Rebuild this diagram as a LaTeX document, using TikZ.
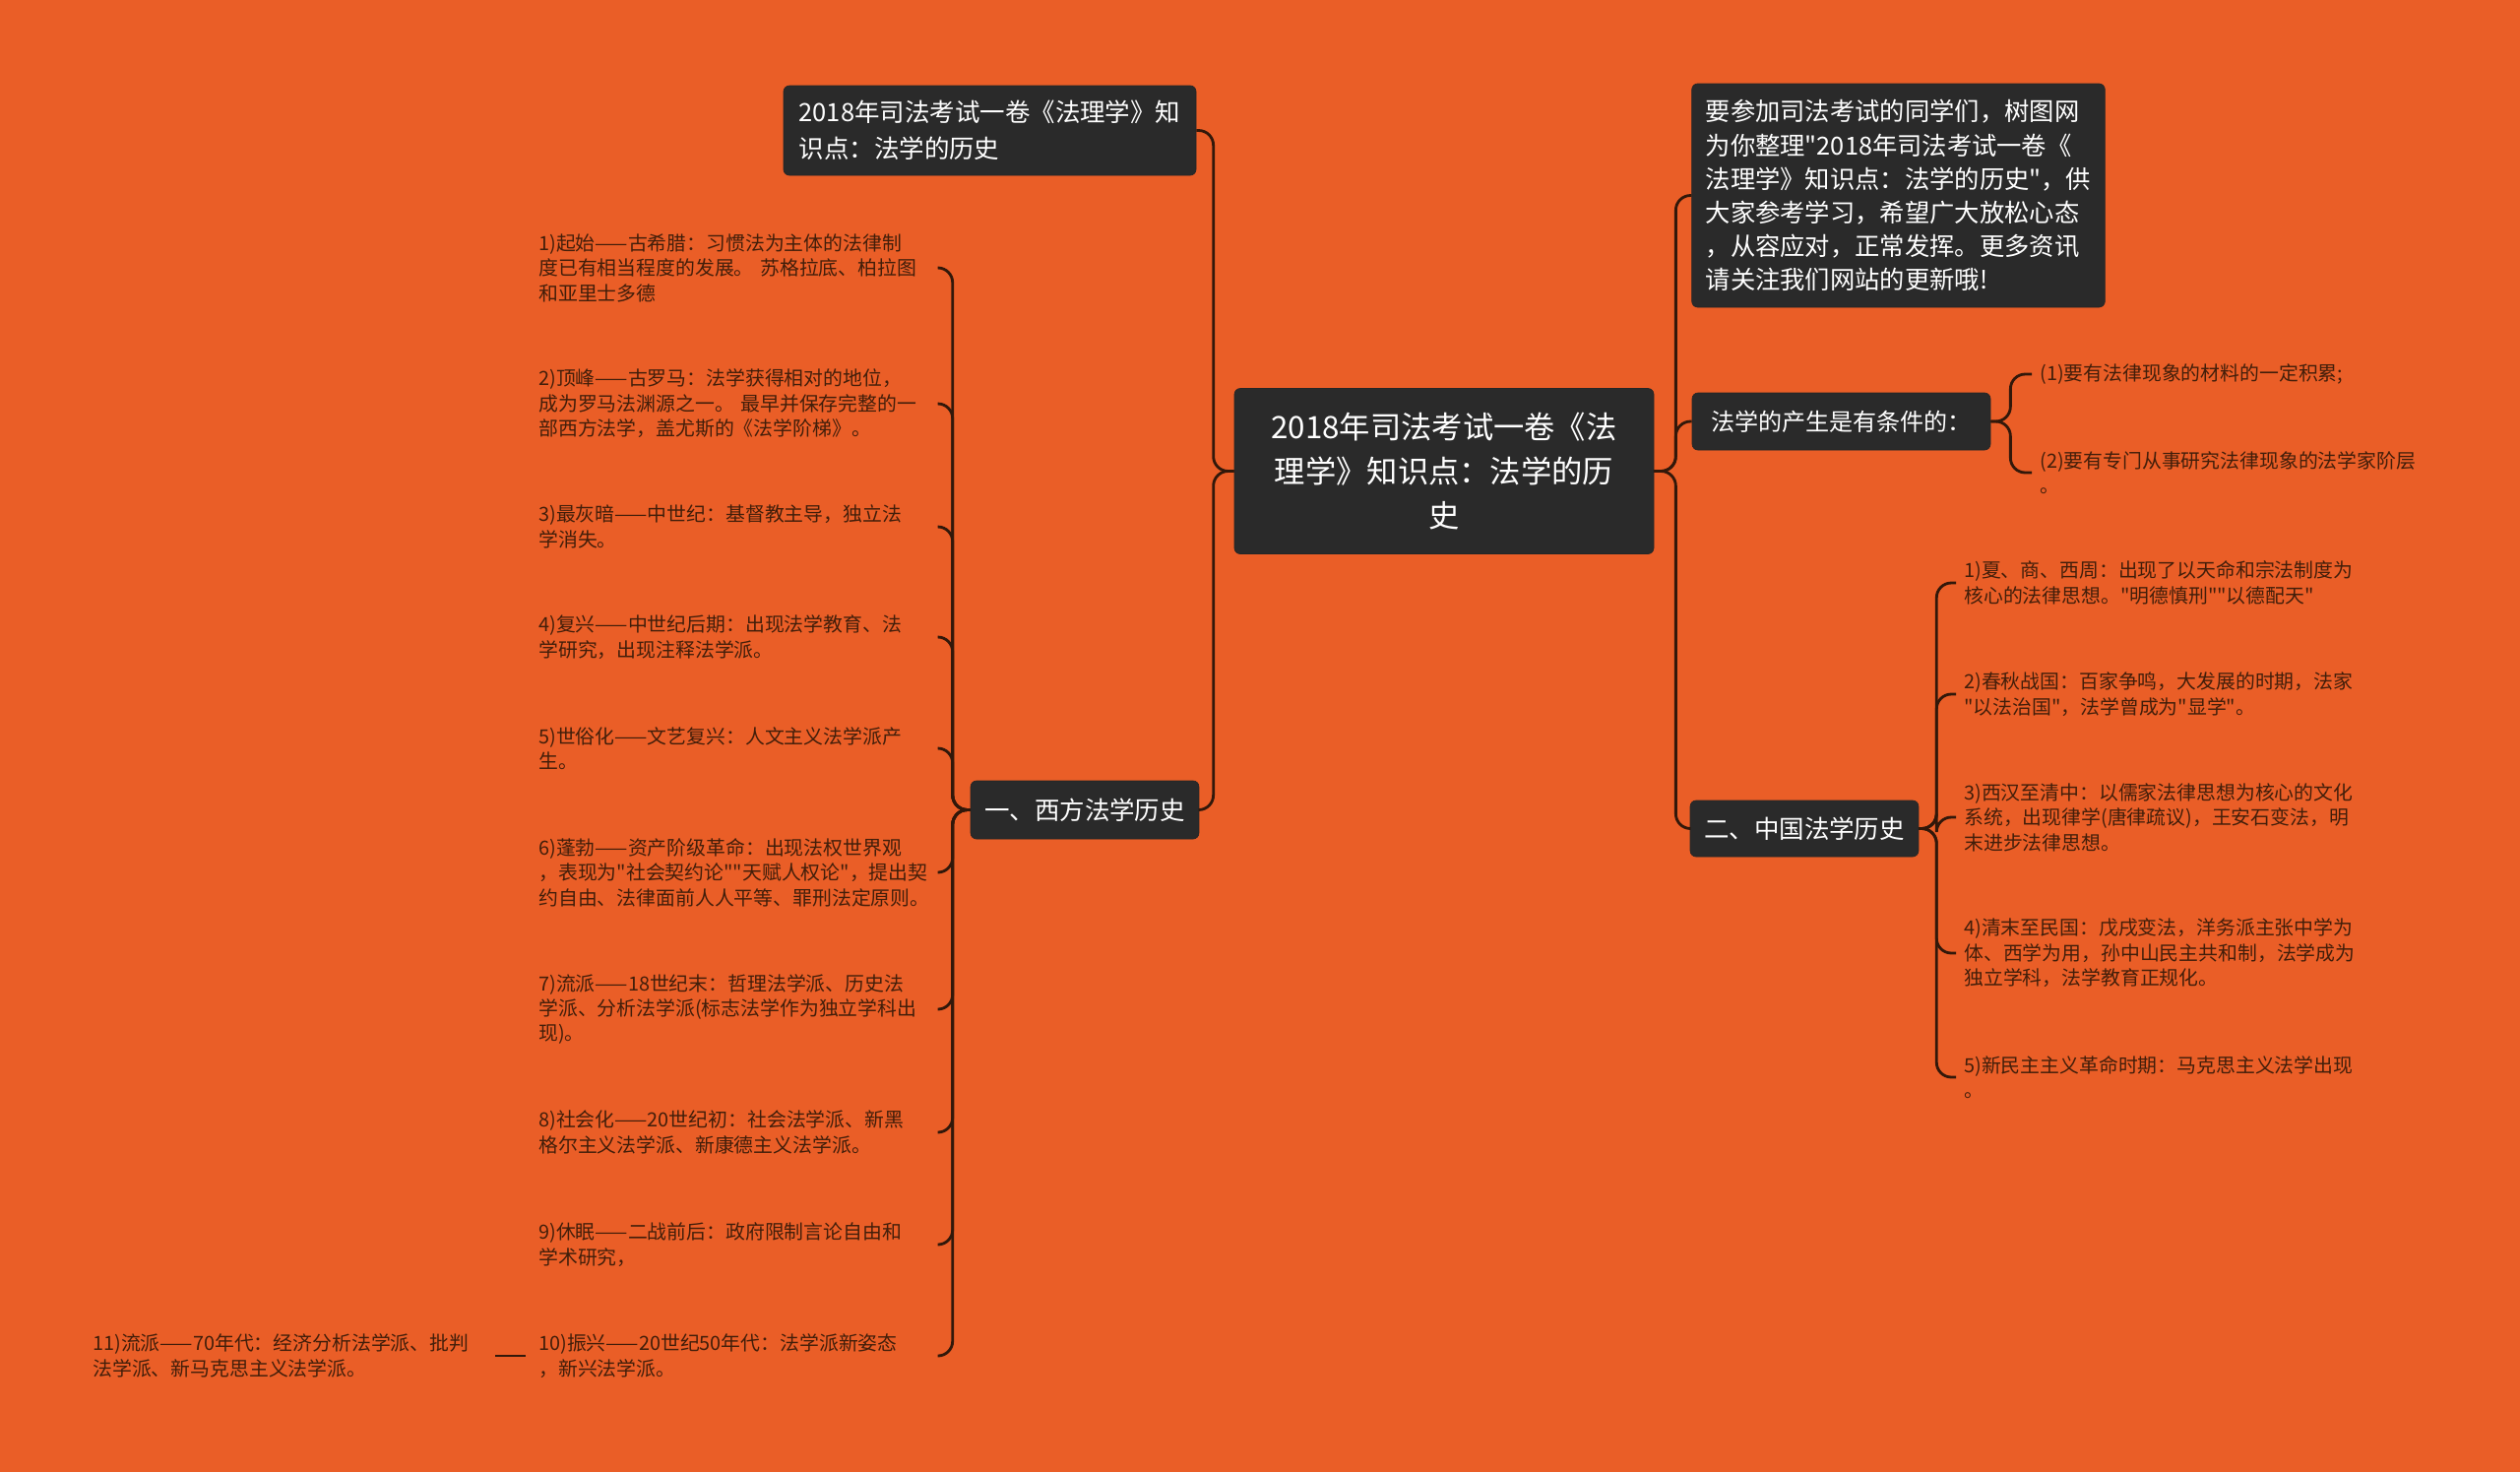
\documentclass[tikz,border=0pt]{standalone}
\usepackage{fontspec}
\setmainfont{Noto Sans CJK SC}[Ligatures=TeXOff]

\definecolor{bgorange}{RGB}{234,94,39}
\definecolor{boxgray}{RGB}{42,42,42}
\definecolor{linebrown}{RGB}{50,24,10}
\definecolor{leaftext}{RGB}{66,30,10}

\begin{document}
\begin{tikzpicture}[
x=0.2mm, y=-0.2mm,
topic/.style={fill=boxgray, draw=black!85, rounded corners=1.2mm, text=white, align=left, inner xsep=2.8mm},
leaf/.style={text=leaftext, align=left, text width=79.4mm, inner xsep=1.6mm, inner ysep=0pt, anchor=west, font=\fontsize{11.3}{14.5}\selectfont},
link/.style={draw=linebrown, line width=1.6pt, rounded corners=3mm}
]

\fill[bgorange] (0,0) rectangle (2560,1495);
\useasboundingbox (0,0) rectangle (2560,1495);


\node[topic, align=center, minimum width=85.2mm, minimum height=33.6mm, font=\fontsize{17.8}{25.6}\selectfont] (root) at (1467,478.5)
{2018年司法考试一卷《法\\理学》知识点：法学的历\\史};


\node[topic, minimum width=83.8mm, minimum height=18.2mm, font=\fontsize{14.5}{21}\selectfont] (title) at (1005.5,132.5)
{2018年司法考试一卷《法理学》知\\识点：法学的历史};

\node[topic, minimum width=45.6mm, minimum height=11.8mm, font=\fontsize{14.5}{18}\selectfont] (west) at (1102,822.5)
{一、西方法学历史};


\node[topic, minimum width=83.8mm, minimum height=45.4mm, font=\fontsize{14.4}{19.4}\selectfont] (intro) at (1928.5,198.5)
{要参加司法考试的同学们，树图网\\为你整理"2018年司法考试一卷《\\法理学》知识点：法学的历史"，供\\大家参考学习，希望广大放松心态\\，从容应对，正常发挥。更多资讯\\请关注我们网站的更新哦!};

\node[topic, minimum width=60.6mm, minimum height=11.6mm, font=\fontsize{13.7}{17}\selectfont] (cond) at (1870.5,428)
{法学的产生是有条件的：};

\node[topic, minimum width=45.6mm, minimum height=11.4mm, font=\fontsize{14.5}{18}\selectfont] (china) at (1833,841.5)
{二、中国法学历史};


% western history
\node[leaf] (w1) at (539,272) {1)起始——古希腊：习惯法为主体的法律制\\度已有相当程度的发展。 苏格拉底、柏拉图\\和亚里士多德};
\node[leaf] (w2) at (539,410) {2)顶峰——古罗马：法学获得相对的地位，\\成为罗马法渊源之一。 最早并保存完整的一\\部西方法学，盖尤斯的《法学阶梯》。};
\node[leaf] (w3) at (539,535) {3)最灰暗——中世纪：基督教主导，独立法\\学消失。};
\node[leaf] (w4) at (539,647) {4)复兴——中世纪后期：出现法学教育、法\\学研究，出现注释法学派。};
\node[leaf] (w5) at (539,760) {5)世俗化——文艺复兴：人文主义法学派产\\生。};
\node[leaf] (w6) at (539,886) {6)蓬勃——资产阶级革命：出现法权世界观\\，表现为"社会契约论""天赋人权论"，提出契\\约自由、法律面前人人平等、罪刑法定原则。};
\node[leaf] (w7) at (539,1025) {7)流派——18世纪末：哲理法学派、历史法\\学派、分析法学派(标志法学作为独立学科出\\现)。};
\node[leaf] (w8) at (539,1150) {8)社会化——20世纪初：社会法学派、新黑\\格尔主义法学派、新康德主义法学派。};
\node[leaf] (w9) at (539,1264) {9)休眠——二战前后：政府限制言论自由和\\学术研究，};
\node[leaf] (w10) at (539,1377) {10)振兴——20世纪50年代：法学派新姿态\\，新兴法学派。};
\node[leaf] (w11) at (86,1377) {11)流派——70年代：经济分析法学派、批判\\法学派、新马克思主义法学派。};


% conditions
\node[leaf] (c1) at (2064,380) {(1)要有法律现象的材料的一定积累;};
\node[leaf] (c2) at (2064,480) {(2)要有专门从事研究法律现象的法学家阶层\\。};


% chinese history
\node[leaf] (h1) at (1987,592) {1)夏、商、西周：出现了以天命和宗法制度为\\核心的法律思想。"明德慎刑""以德配天"};
\node[leaf] (h2) at (1987,705) {2)春秋战国：百家争鸣，大发展的时期，法家\\"以法治国"，法学曾成为"显学"。};
\node[leaf] (h3) at (1987,830) {3)西汉至清中：以儒家法律思想为核心的文化\\系统，出现律学(唐律疏议)，王安石变法，明\\末进步法律思想。};
\node[leaf] (h4) at (1987,968) {4)清末至民国：戊戌变法，洋务派主张中学为\\体、西学为用，孙中山民主共和制，法学成为\\独立学科，法学教育正规化。};
\node[leaf] (h5) at (1987,1094) {5)新民主主义革命时期：马克思主义法学出现\\。};


% connectors
\draw[link] (root.west) -- ++(-21,0) |- (title.east);
\draw[link] (root.west) -- ++(-21,0) |- (west.east);
\foreach \n in {intro, cond, china}
\draw[link] (root.east) -- ++(22,0) |- (\n.west);

\foreach \n in {w1,w2,w3,w4,w5,w6,w7,w8,w9,w10}
\draw[link] (west.west) -- ++(-18,0) |- (\n.east);
\draw[link, shorten <=1mm, shorten >=0.6mm] (w10.west) -- (w11.east);

\foreach \n in {c1, c2}
\draw[link] (cond.east) -- ++(20,0) |- (\n.west);

\foreach \n in {h1,h2,h3,h4,h5}
\draw[link] (china.east) -- ++(18,0) |- (\n.west);

\end{tikzpicture}
\end{document}
